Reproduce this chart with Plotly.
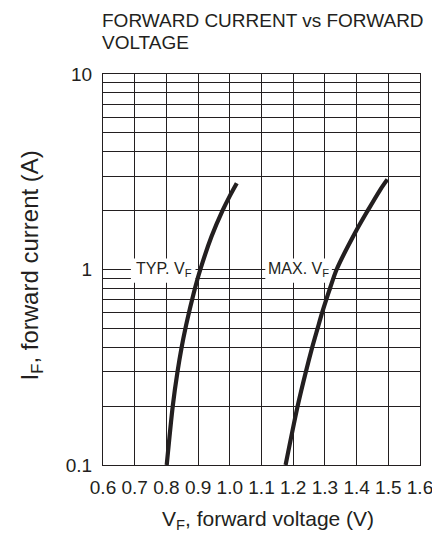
import plotly.graph_objects as go

# Data
typ_vf = [0.801, 0.820, 0.835, 0.848, 0.860, 0.871, 0.881, 0.890, 0.907, 0.942, 0.977, 0.999, 1.022]
typ_if = [0.1, 0.2, 0.3, 0.4, 0.5, 0.6, 0.7, 0.8, 1.0, 1.47, 2.0, 2.36, 2.76]
max_vf = [1.176, 1.214, 1.240, 1.260, 1.277, 1.291, 1.304, 1.316, 1.337, 1.397, 1.435, 1.474, 1.497]
max_if = [0.1, 0.2, 0.3, 0.4, 0.5, 0.6, 0.7, 0.8, 1.0, 1.56, 2.0, 2.55, 2.89]

x_ticks = [0.6, 0.7, 0.8, 0.9, 1.0, 1.1, 1.2, 1.3, 1.4, 1.5, 1.6]
x_ticktext = ["0.6", "0.7", "0.8", "0.9", "1.0", "1.1", "1.2", "1.3", "1.4", "1.5", "1.6"]
y_major = [0.1, 1, 10]
y_major_text = ["0.1", "1", "10"]
y_grid = [m * d for d in (0.1, 1) for m in range(1, 10)] + [10]

title_lines = ["FORWARD CURRENT vs FORWARD", "VOLTAGE"]
x_title = "V<sub>F</sub>, forward voltage (V)"
y_title = "I<sub>F</sub>, forward current (A)"

INK = "#231f20"
FONT = "Liberation Sans, Arial, Helvetica, sans-serif"

y_ticktext = []
for v in y_grid:
    label = ""
    for mv, mt in zip(y_major, y_major_text):
        if abs(v - mv) < 1e-9:
            label = mt
    y_ticktext.append(label)

fig = go.Figure()
for xs, ys in ((typ_vf, typ_if), (max_vf, max_if)):
    fig.add_trace(go.Scatter(x=xs, y=ys, mode="lines",
                             line=dict(color=INK, width=4.2, shape="spline", smoothing=0.8),
                             showlegend=False, hoverinfo="skip"))

# white label boxes (between grid and traces)
fig.add_shape(type="rect", xref="x", yref="y", x0=0.688, x1=0.892, y0=0.855, y1=1.14,
              fillcolor="white", line=dict(width=0), layer="between")
fig.add_shape(type="rect", xref="x", yref="y", x0=1.112, x1=1.322, y0=0.855, y1=1.14,
              fillcolor="white", line=dict(width=0), layer="between")

fig.add_annotation(x=0.888, y=0, xref="x", yref="y", text="TYP. V<sub>F</sub>",
                   showarrow=False, xanchor="right", yanchor="middle",
                   font=dict(family=FONT, size=16, color=INK))
fig.add_annotation(x=1.318, y=0, xref="x", yref="y", text="MAX. V<sub>F</sub>",
                   showarrow=False, xanchor="right", yanchor="middle",
                   font=dict(family=FONT, size=16, color=INK))

# chart title (two lines)
for line, shift in zip(title_lines, (54, 32)):
    fig.add_annotation(x=0, y=1, xref="paper", yref="paper", text=line,
                       showarrow=False, xanchor="left", yanchor="middle",
                       xshift=-3, yshift=shift,
                       font=dict(family=FONT, size=19, color=INK))

# axis titles
fig.add_annotation(x=0.52, y=0, xref="paper", yref="paper", text=x_title,
                   showarrow=False, xanchor="center", yanchor="middle", yshift=-55,
                   font=dict(family=FONT, size=21, color=INK))
fig.add_annotation(x=0, y=0.5, xref="paper", yref="paper", text=y_title,
                   showarrow=False, xanchor="center", yanchor="middle", xshift=-72,
                   yshift=4, textangle=-90,
                   font=dict(family=FONT, size=24, color=INK))

fig.update_layout(
    width=424, height=526,
    margin=dict(l=95, r=12, t=66, b=69, autoexpand=False),
    paper_bgcolor="white", plot_bgcolor="white",
    font=dict(family=FONT, color=INK),
)
fig.update_xaxes(range=[0.6, 1.6], tickvals=x_ticks, ticktext=x_ticktext,
                 showgrid=True, gridcolor=INK, gridwidth=1.3,
                 showline=True, linecolor=INK, linewidth=1.3, mirror=True,
                 ticks="", zeroline=False, ticklabelstandoff=5,
                 ticklabeloverflow="allow", automargin=False,
                 tickfont=dict(family=FONT, size=19, color=INK))
fig.update_yaxes(type="log", range=[-1, 1], tickvals=y_grid, ticktext=y_ticktext,
                 showgrid=True, gridcolor=INK, gridwidth=1.3,
                 showline=True, linecolor=INK, linewidth=1.3, mirror=True,
                 ticks="", zeroline=False, ticklabelstandoff=6,
                 ticklabeloverflow="allow", automargin=False,
                 tickfont=dict(family=FONT, size=19, color=INK))

fig.write_html("out.html")
